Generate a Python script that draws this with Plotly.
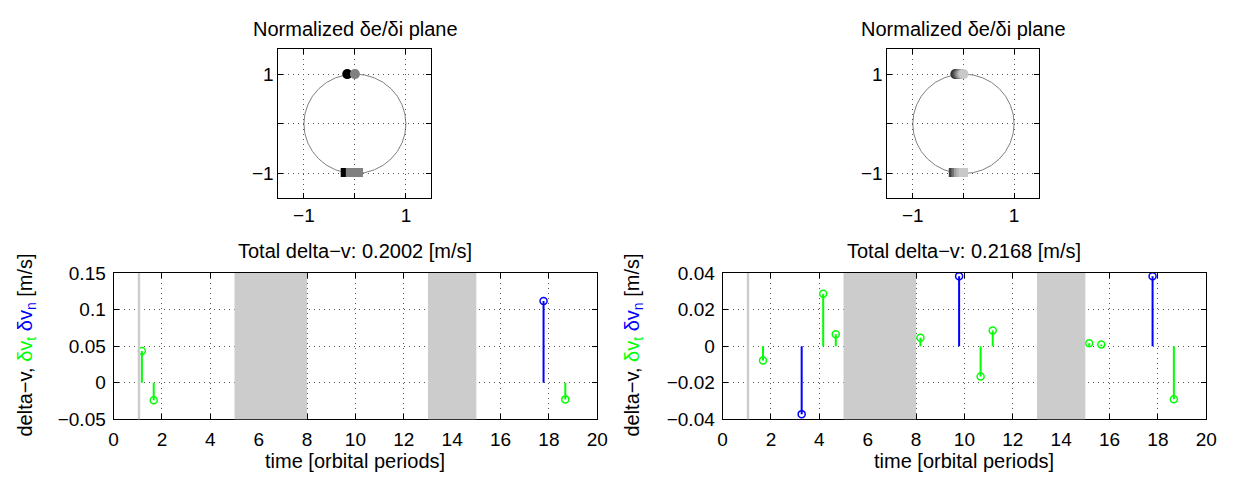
import plotly.graph_objects as go

W, H = 1237, 484

# ---------------- data ----------------
windows = [(1.0, 1.1), (5.0, 8.0), (13.0, 15.0)]

left_total = "0.2002"
left_t_times = [1.17, 1.66, 18.68]
left_t_vals = [0.0435, -0.0239, -0.0226]
left_n_times = [17.78]
left_n_vals = [0.1119]

right_total = "0.2168"
right_t_times = [1.67, 4.16, 4.68, 8.18, 10.67, 11.17, 15.16, 15.66, 18.66]
right_t_vals = [-0.0078, 0.0287, 0.0066, 0.0047, -0.0165, 0.0086, 0.0016, 0.0010, -0.0290]
right_n_times = [3.27, 9.78, 17.78]
right_n_vals = [-0.0371, 0.0383, 0.0383]

left_e_x = [-0.15, 0.0]
left_e_y = [1.0, 1.0]
left_e_col = ["#000000", "#808080"]
left_i_x = [-0.19, -0.09, -0.04, 0.02, 0.07]
left_i_y = [-0.98, -0.98, -0.98, -0.98, -0.98]
left_i_col = ["#000000", "#808080", "#808080", "#808080", "#808080"]

right_e_x = [-0.16, -0.12, -0.08, -0.04, 0.0]
right_e_y = [1.0, 1.0, 1.0, 1.0, 1.0]
right_e_col = ["#303030", "#555555", "#808080", "#a8a8a8", "#c8c8c8"]
right_i_x = [-0.20, -0.15, -0.10, -0.05, 0.0]
right_i_y = [-0.98, -0.98, -0.98, -0.98, -0.98]
right_i_col = ["#404040", "#707070", "#a0a0a0", "#b8b8b8", "#c8c8c8"]

left_yticks = [-0.05, 0, 0.05, 0.1, 0.15]
left_yticktext = ["−0.05", "0", "0.05", "0.1", "0.15"]
right_yticks = [-0.04, -0.02, 0, 0.02, 0.04]
right_yticktext = ["−0.04", "−0.02", "0", "0.02", "0.04"]
xticks = list(range(0, 21, 2))
plane_ticks = [-1, 1]
plane_ticktext = ["−1", "1"]
plane_minor = [0]

GREEN = "#00ff00"
BLUE = "#0000ff"
FONT = "Liberation Sans, Arial, sans-serif"
TICK_SIZE = 19
TEXT_SIZE = 20
GRID = dict(showgrid=True, gridcolor="#555555", griddash="1px,4px", gridwidth=1)

fig = go.Figure()


def px_x(p):
    return p / W


def px_y(p):
    return 1 - p / H


def stems(times, vals, color, xa, ya):
    xs, ys = [], []
    for t, v in zip(times, vals):
        xs += [t, t, None]
        ys += [0, v, None]
    fig.add_trace(go.Scatter(x=xs, y=ys, mode="lines", line=dict(color=color, width=2),
                             xaxis=xa, yaxis=ya, showlegend=False, hoverinfo="skip"))
    fig.add_trace(go.Scatter(x=times, y=vals, mode="markers",
                             marker=dict(symbol="circle-open", size=7, color=color, line=dict(width=1.5)),
                             xaxis=xa, yaxis=ya, showlegend=False))


def plane(ex, ey, ecol, ix, iy, icol, xa, ya):
    fig.add_trace(go.Scatter(x=ix, y=iy, mode="markers",
                             marker=dict(symbol="square", size=9, color=icol, line=dict(width=0)),
                             xaxis=xa, yaxis=ya, showlegend=False))
    fig.add_trace(go.Scatter(x=ex, y=ey, mode="markers",
                             marker=dict(symbol="circle", size=10, color=ecol, line=dict(width=0)),
                             xaxis=xa, yaxis=ya, showlegend=False))


plane(left_e_x, left_e_y, left_e_col, left_i_x, left_i_y, left_i_col, "x", "y")
plane(right_e_x, right_e_y, right_e_col, right_i_x, right_i_y, right_i_col, "x2", "y2")
stems(left_t_times, left_t_vals, GREEN, "x3", "y3")
stems(left_n_times, left_n_vals, BLUE, "x3", "y3")
stems(right_t_times, right_t_vals, GREEN, "x4", "y4")
stems(right_n_times, right_n_vals, BLUE, "x4", "y4")

shapes = []
for xr, yr in (("x", "y"), ("x2", "y2")):
    shapes.append(dict(type="circle", xref=xr, yref=yr, x0=-1, x1=1, y0=-1, y1=1,
                       line=dict(color="#808080", width=1), layer="below"))
for xr, yr, lo, hi in (("x3", "y3", -0.05, 0.15), ("x4", "y4", -0.04, 0.04)):
    for a, b in windows:
        shapes.append(dict(type="rect", xref=xr, yref=yr, x0=a, x1=b, y0=lo, y1=hi,
                           fillcolor="#cccccc", line=dict(width=0), layer="above"))

axis_common = dict(showline=True, linecolor="black", linewidth=1, mirror="ticks",
                   ticks="inside", ticklen=5, tickcolor="black",
                   zeroline=False, tickfont=dict(family=FONT, size=TICK_SIZE, color="black"), **GRID)

plane_ax = dict(axis_common, range=[-1.5, 1.5], tickvals=plane_ticks, ticktext=plane_ticktext,
                minor=dict(tickvals=plane_minor, ticks="inside", ticklen=5, tickcolor="black", **GRID))

fig.update_layout(
    width=W, height=H, margin=dict(l=0, r=0, t=0, b=0),
    paper_bgcolor="white", plot_bgcolor="white",
    font=dict(family=FONT, size=TEXT_SIZE, color="black"),
    shapes=shapes,
    xaxis=dict(plane_ax, domain=[px_x(277), px_x(432)], anchor="y"),
    yaxis=dict(plane_ax, domain=[px_y(197), px_y(41)], anchor="x"),
    xaxis2=dict(plane_ax, domain=[px_x(894), px_x(1048)], anchor="y2"),
    yaxis2=dict(plane_ax, domain=[px_y(197), px_y(41)], anchor="x2"),
    xaxis3=dict(axis_common, domain=[px_x(110), px_x(600)], anchor="y3", range=[0, 20],
                tickvals=xticks, ticklabelstandoff=3),
    yaxis3=dict(axis_common, domain=[px_y(428), px_y(275)], anchor="x3", range=[-0.05, 0.15],
                tickvals=left_yticks, ticktext=left_yticktext, ticklabelstandoff=3),
    xaxis4=dict(axis_common, domain=[px_x(727), px_x(1217)], anchor="y4", range=[0, 20],
                tickvals=xticks, ticklabelstandoff=3),
    yaxis4=dict(axis_common, domain=[px_y(428), px_y(275)], anchor="x4", range=[-0.04, 0.04],
                tickvals=right_yticks, ticktext=right_yticktext, ticklabelstandoff=3),
)

ylab = ('delta−v, <span style="color:#00ff00">δv<sub>t</sub></span> '
        '<span style="color:#0000ff">δv<sub>n</sub></span> [m/s]')

ann = []


def txt(x, y, s, **kw):
    d = dict(x=px_x(x), y=px_y(y), xref="paper", yref="paper", text=s, showarrow=False,
             xanchor="center", yanchor="middle", font=dict(family=FONT, size=TEXT_SIZE, color="black"))
    d.update(kw)
    ann.append(d)


txt(355, 20, "Normalized δe/δi plane")
txt(971, 20, "Normalized δe/δi plane")
txt(355, 252, "Total delta−v: " + left_total + " [m/s]")
txt(972, 252, "Total delta−v: " + right_total + " [m/s]")
txt(355, 471, "time [orbital periods]")
txt(972, 471, "time [orbital periods]")
txt(22, 350, ylab, textangle=-90)
txt(637, 350, ylab, textangle=-90)
fig.update_layout(annotations=ann)

fig.write_html("out.html", config={"displayModeBar": False},
               post_script="document.body.style.margin='0';")
